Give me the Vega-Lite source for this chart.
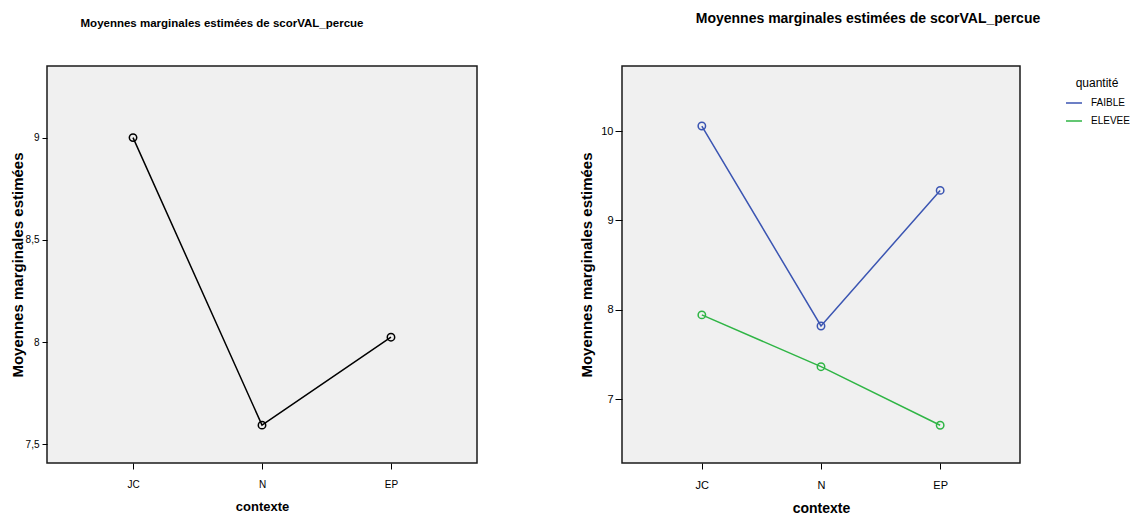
{
  "$schema": "https://vega.github.io/schema/vega-lite/v6.json",
  "background": "white",
  "padding": {"left": 9, "top": 11, "right": 0, "bottom": 0},
  "spacing": 100,
  "config": {
    "view": {"fill": "#f0f0f0", "stroke": "#1a1a1a", "strokeWidth": 1.5},
    "axis": {"grid": false, "domain": false, "tickColor": "black", "tickWidth": 1, "labelColor": "black", "titleColor": "black", "titleFontWeight": "bold", "titleFontSize": 14, "titleFont": "Liberation Sans"},
    "legend": {"titleFont": "Liberation Sans", "titleFontSize": 12, "titleFontWeight": "normal", "titleColor": "black", "labelFont": "Liberation Sans", "labelFontSize": 10, "labelColor": "black"}
  },
  "hconcat": [
    {
      "width": 430,
      "height": 397,
      "title": {"text": "Moyennes marginales estimées de scorVAL_percue", "font": "Liberation Sans", "fontSize": 11.5, "fontWeight": "bold", "color": "black", "anchor": "middle", "dx": -40, "offset": 26, "baseline": "bottom"},
      "data": {"values": [
        {"contexte": "JC", "moyenne": 9.0},
        {"contexte": "N", "moyenne": 7.594},
        {"contexte": "EP", "moyenne": 8.024}
      ]},
      "encoding": {
        "x": {"field": "contexte", "type": "ordinal", "sort": ["JC", "N", "EP"], "scale": {"type": "point", "domain": ["JC", "N", "EP"], "padding": 0.667},
          "axis": {"title": "contexte", "labelAngle": 0, "labelFont": "Liberation Sans", "labelFontSize": 10, "tickSize": 6, "labelPadding": 10, "titlePadding": 11, "titleFontSize": 13}},
        "y": {"field": "moyenne", "type": "quantitative", "scale": {"domain": [7.409, 9.35], "nice": false, "zero": false},
          "axis": {"title": "Moyennes marginales estimées", "titleFontSize": 15, "values": [7.5, 8, 8.5, 9], "labelExpr": "replace(format(datum.value, '.1~f'), '.', ',')", "labelFont": "Liberation Sans", "labelFontSize": 10, "tickSize": 5, "labelPadding": 3, "minExtent": 18, "maxExtent": 18, "titlePadding": 4}}
      },
      "layer": [
        {"mark": {"type": "line", "color": "black", "strokeWidth": 1.5}},
        {"mark": {"type": "point", "shape": "circle", "filled": false, "color": "black", "size": 55, "strokeWidth": 1.5, "opacity": 1}}
      ]
    },
    {
      "width": 398,
      "height": 397,
      "title": {"text": "Moyennes marginales estimées de scorVAL_percue", "font": "Liberation Sans", "fontSize": 14, "fontWeight": "bold", "color": "black", "anchor": "middle", "dx": 47, "offset": 26, "baseline": "bottom"},
      "data": {"values": [
        {"contexte": "JC", "quantité": "FAIBLE", "moyenne": 10.056},
        {"contexte": "N", "quantité": "FAIBLE", "moyenne": 7.82},
        {"contexte": "EP", "quantité": "FAIBLE", "moyenne": 9.336},
        {"contexte": "JC", "quantité": "ELEVEE", "moyenne": 7.944},
        {"contexte": "N", "quantité": "ELEVEE", "moyenne": 7.365},
        {"contexte": "EP", "quantité": "ELEVEE", "moyenne": 6.71}
      ]},
      "encoding": {
        "x": {"field": "contexte", "type": "ordinal", "sort": ["JC", "N", "EP"], "scale": {"type": "point", "domain": ["JC", "N", "EP"], "padding": 0.67},
          "axis": {"title": "contexte", "labelAngle": 0, "labelFont": "Liberation Sans", "labelFontSize": 11, "tickSize": 6, "labelPadding": 10, "titlePadding": 11}},
        "y": {"field": "moyenne", "type": "quantitative", "scale": {"domain": [6.288, 10.727], "nice": false, "zero": false},
          "axis": {"title": "Moyennes marginales estimées", "titleFontSize": 15, "values": [7, 8, 9, 10], "format": "d", "labelFont": "Liberation Sans", "labelFontSize": 11, "tickSize": 7, "labelPadding": 2, "minExtent": 19, "maxExtent": 19, "titlePadding": 9}},
        "color": {"field": "quantité", "type": "nominal", "scale": {"domain": ["FAIBLE", "ELEVEE"], "range": ["#3b55b2", "#2fb545"]},
          "legend": {"title": "quantité", "orient": "none", "legendX": 1018, "legendY": 12, "symbolType": "stroke", "symbolSize": 256, "symbolStrokeWidth": 1.5, "labelOffset": 8, "rowPadding": 4, "titlePadding": 4, "titleAnchor": "middle"}}
      },
      "layer": [
        {"mark": {"type": "line", "strokeWidth": 1.5}},
        {"mark": {"type": "point", "shape": "circle", "filled": false, "size": 55, "strokeWidth": 1.5, "opacity": 1}}
      ]
    }
  ]
}
